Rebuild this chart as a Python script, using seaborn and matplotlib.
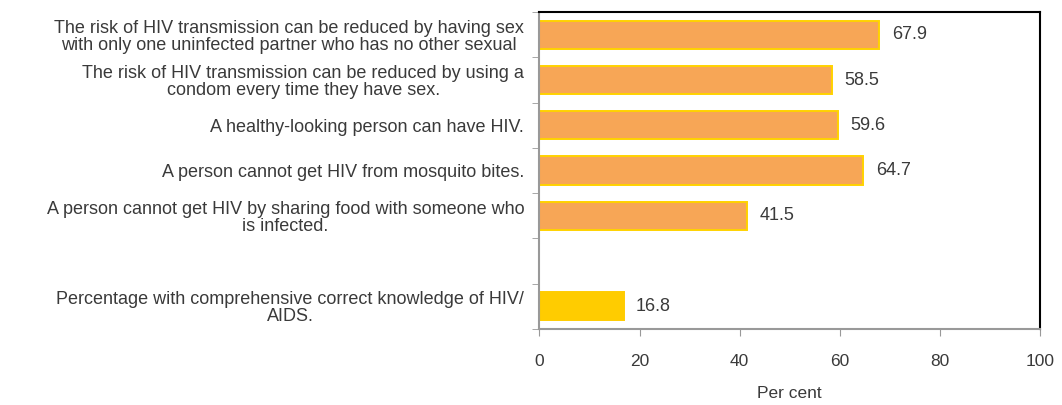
import matplotlib
matplotlib.use("Agg")
import matplotlib.pyplot as plt
import seaborn as sns
import pandas as pd
import numpy as np

categories = [
    "The risk of HIV transmission can be reduced by having sex\nwith only one uninfected partner who has no other sexual",
    "The risk of HIV transmission can be reduced by using a\ncondom every time they have sex.",
    "A healthy-looking person can have HIV.",
    "A person cannot get HIV from mosquito bites.",
    "A person cannot get HIV by sharing food with someone who\nis infected.",
    " ",
    "Percentage with comprehensive correct knowledge of HIV/\nAIDS.",
]
values = [67.9, 58.5, 59.6, 64.7, 41.5, np.nan, 16.8]
bar_colors = ["#F7A656", "#F7A656", "#F7A656", "#F7A656", "#F7A656", "#FFFFFF", "#FFCC00"]
edge_colors = ["#FFD200", "#FFD200", "#FFD200", "#FFD200", "#FFD200", "#FFFFFF", "#FFCC00"]

sns.set_style("white")
plt.rcParams["font.family"] = ["Liberation Sans", "DejaVu Sans"]

df = pd.DataFrame({"cat": categories, "val": values})
df_plot = df.dropna()

fig = plt.figure(figsize=(10.62, 4.05), dpi=100)
ax = fig.add_axes([0.508, 0.188, 0.471, 0.782])

sns.barplot(data=df_plot, x="val", y="cat", order=categories, hue="cat",
            hue_order=categories, palette=dict(zip(categories, bar_colors)),
            legend=False, width=0.62, ax=ax, saturation=1)

for p in ax.patches:
    y = p.get_y() + p.get_height() / 2
    idx = int(round(y))
    p.set_edgecolor(edge_colors[idx])
    p.set_linewidth(1.4)

txt = "#3a3a3a"
for c in ax.containers:
    ax.bar_label(c, fmt="%.1f", padding=9, fontsize=13, color=txt)

ax.set_xlim(0, 100)
ax.set_ylim(len(categories) - 0.5, -0.5)
ax.set_xticks([0, 20, 40, 60, 80, 100])
ax.tick_params(axis="x", length=5, color="#999999", direction="out", pad=13,
               labelsize=12.5, labelcolor=txt, bottom=True)
ax.set_yticks(range(len(categories)))
ax.set_yticklabels(categories, fontsize=13, color=txt, multialignment="center",
                   linespacing=1.0)
ax.tick_params(axis="y", which="major", length=0, pad=11)
ax.set_yticks(np.arange(-0.5, len(categories), 1.0), minor=True)
ax.tick_params(axis="y", which="minor", length=5, color="#999999", direction="out", left=True)

ax.set_xlabel("Per cent", fontsize=12.5, color=txt, labelpad=12)
ax.set_ylabel("")

for s in ["left", "bottom"]:
    ax.spines[s].set_color("#999999")
    ax.spines[s].set_linewidth(1.5)
for s in ["top", "right"]:
    ax.spines[s].set_color("#000000")
    ax.spines[s].set_linewidth(1.5)
    ax.spines[s].set_visible(True)

fig.savefig("out.png", dpi=100)
